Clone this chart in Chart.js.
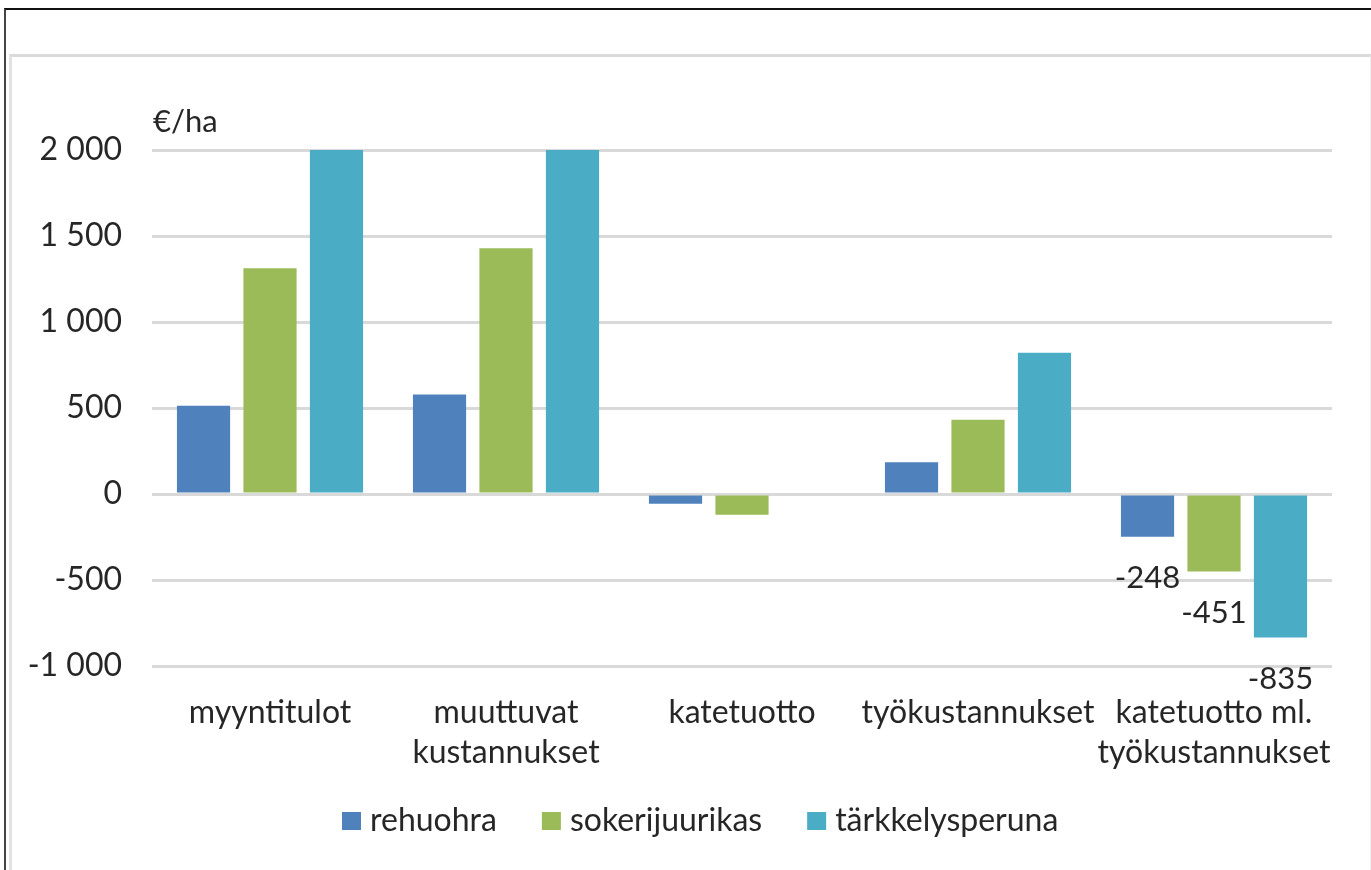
<!DOCTYPE html>
<html lang="fi">
<head>
<meta charset="utf-8">
<title>Katetuotto</title>
<script src="https://cdn.jsdelivr.net/npm/chart.js@4/dist/chart.umd.min.js"></script>
<style>
  html, body { margin: 0; padding: 0; background: #fff; }
  body { width: 1371px; height: 870px; position: relative; overflow: hidden; }
  .frame-outer { position: absolute; left: 4px; top: 8px; right: 0; bottom: -4px; border-top: 2px solid #111; border-left: 2px solid #444; }
  .frame-inner { position: absolute; left: 9px; top: 54px; right: 0; bottom: -4px; border-top: 3px solid #dadada; border-left: 3px solid #e2e2e2; border-right: 1px solid #eee; }
  #chart { position: absolute; left: 0; top: 0; }
</style>
</head>
<body>
<div class="frame-outer"></div>
<div class="frame-inner"></div>
<canvas id="chart" width="1371" height="870"></canvas>
<script>
const categories = [
  'myyntitulot',
  ['muuttuvat', 'kustannukset'],
  'katetuotto',
  'työkustannukset',
  ['katetuotto ml.', 'työkustannukset'],
];
const seriesNames = ['rehuohra', 'sokerijuurikas', 'tärkkelysperuna'];
const rehuohra = [513, 578, -57, 185, -248];
const sokerijuurikas = [1313, 1429, -121, 432, -451];
const tarkkelysperuna = [2000, 2000, 0, 821, -835];
const yTicks = [-1000, -500, 0, 500, 1000, 1500, 2000];
const labelledCategory = 4;

const colors = ['#4f81bd', '#9bbb59', '#4bacc6'];
const TEXT = '#262626';
const FONT = 'Lato';
const FONT_SIZE = 32;

Chart.defaults.font.family = FONT;
Chart.defaults.color = TEXT;

const fmt = (v) => {
  const sign = v < 0 ? '-' : '';
  return sign + String(Math.abs(v)).replace(/\B(?=(\d{3})+(?!\d))/g, ' ');
};

// value labels under the bars of one category
const valueLabels = {
  id: 'valueLabels',
  afterDatasetsDraw(chart) {
    const { ctx } = chart;
    ctx.save();
    ctx.font = `31px ${FONT}`;
    ctx.fillStyle = TEXT;
    ctx.textAlign = 'center';
    ctx.textBaseline = 'middle';
    chart.data.datasets.forEach((ds, i) => {
      const bar = chart.getDatasetMeta(i).data[labelledCategory];
      const v = ds.data[labelledCategory];
      const y = v < 0 ? bar.y + 41 : bar.y - 41;
      ctx.fillText(fmt(v), bar.x, y);
    });
    ctx.restore();
  },
};

// unit text above the value axis
const unitLabel = {
  id: 'unitLabel',
  afterDraw(chart) {
    const { ctx, chartArea } = chart;
    ctx.save();
    ctx.font = `31px ${FONT}`;
    ctx.fillStyle = TEXT;
    ctx.textAlign = 'left';
    ctx.textBaseline = 'middle';
    ctx.fillText('€/ha', chartArea.left + 1, chartArea.top - 28);
    ctx.restore();
  },
};

// legend row with tight marker/text spacing
const legendRow = {
  id: 'legendRow',
  afterDraw(chart) {
    const { ctx, chartArea } = chart;
    const y = chartArea.bottom + 155;
    let x = 342;
    ctx.save();
    ctx.font = `32px ${FONT}`;
    ctx.textBaseline = 'middle';
    ctx.textAlign = 'left';
    chart.data.datasets.forEach((ds) => {
      ctx.fillStyle = ds.backgroundColor;
      ctx.fillRect(x, y - 9, 19, 18);
      x += 28;
      ctx.fillStyle = TEXT;
      ctx.fillText(ds.label, x, y);
      x += ctx.measureText(ds.label).width + 45;
    });
    ctx.restore();
  },
};

const seriesData = [rehuohra, sokerijuurikas, tarkkelysperuna];

new Chart(document.getElementById('chart'), {
  type: 'bar',
  data: {
    labels: categories,
    datasets: seriesNames.map((name, i) => ({
      label: name,
      data: seriesData[i],
      backgroundColor: colors[i],
      borderWidth: 0,
      categoryPercentage: 0.845,
      barPercentage: 0.8,
    })),
  },
  options: {
    responsive: false,
    animation: false,
    layout: { padding: { top: 150, right: 39, bottom: 94, left: 0 } },
    plugins: {
      legend: { display: false },
      tooltip: { enabled: false },
    },
    scales: {
      x: {
        grid: { display: false },
        border: { display: false },
        ticks: {
          font: { size: FONT_SIZE, lineHeight: 40 / FONT_SIZE },
          color: TEXT,
          padding: 19,
          maxRotation: 0,
          autoSkip: false,
        },
        afterFit: (s) => { s.height = 110; },
      },
      y: {
        min: yTicks[0],
        max: yTicks[yTicks.length - 1],
        afterBuildTicks: (s) => { s.ticks = yTicks.map((v) => ({ value: v })); },
        grid: { color: '#d9d9d9', lineWidth: 3, drawTicks: false },
        border: { display: false },
        ticks: {
          font: { size: FONT_SIZE },
          color: TEXT,
          padding: 30,
          callback: (v) => fmt(v),
        },
        afterFit: (s) => { s.width = 152; },
      },
    },
  },
  plugins: [valueLabels, unitLabel, legendRow],
});
</script>
</body>
</html>
